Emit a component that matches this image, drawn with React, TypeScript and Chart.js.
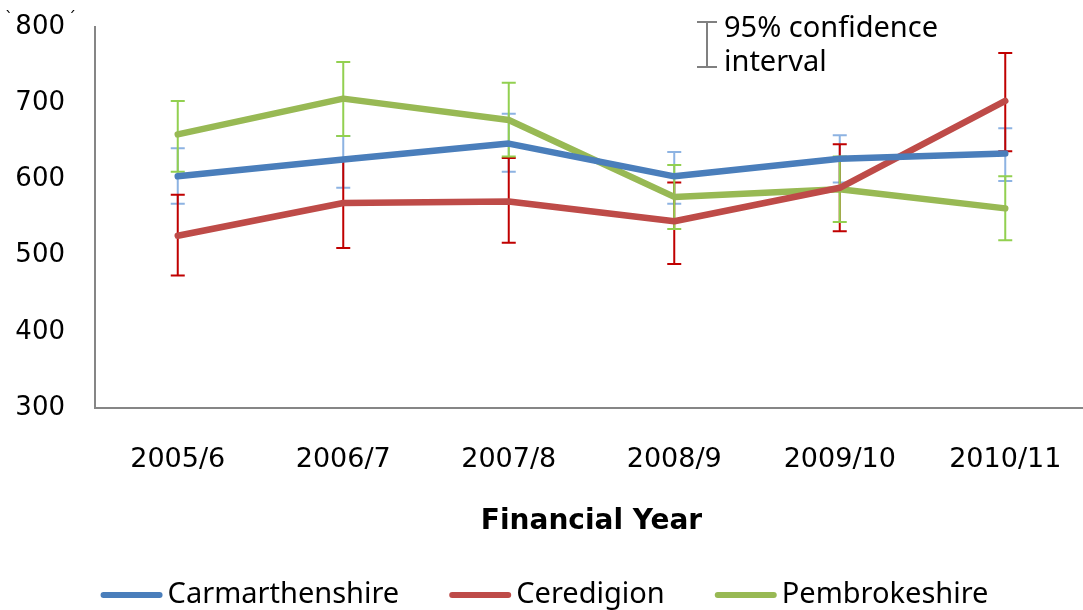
import React, { useEffect, useRef } from "react";
import { Chart, registerables } from "chart.js";

Chart.register(...registerables);

// ---- Data ----
const categories = ["2005/6", "2006/7", "2007/8", "2008/9", "2009/10", "2010/11"];
const seriesNames = ["Carmarthenshire", "Ceredigion", "Pembrokeshire"];

const carmarthenshire = [604, 626, 647, 604, 627, 634];
const carmarthenshireLower = [568, 589, 610, 568, 596, 598];
const carmarthenshireUpper = [641, 657, 686, 636, 658, 667];

const ceredigion = [526, 569, 571, 545, 589, 703];
const ceredigionLower = [474, 510, 517, 489, 532, 637];
const ceredigionUpper = [580, 624, 628, 596, 646, 766];

const pembrokeshire = [659, 706, 678, 577, 587, 562];
const pembrokeshireLower = [610, 657, 630, 535, 544, 520];
const pembrokeshireUpper = [703, 754, 727, 619, 630, 604];

const yMin = 300;
const yMax = 800;
const yStep = 100;

const xAxisTitle = "Financial Year";
const noteLines = ["95% confidence", "interval"];

const lineColors = ["#4A7EBB", "#BE4B48", "#98B954"];
const errorColors = ["#8DB3E2", "#C00000", "#92D050"];

const seriesValues = [carmarthenshire, ceredigion, pembrokeshire];
const seriesLower = [carmarthenshireLower, ceredigionLower, pembrokeshireLower];
const seriesUpper = [carmarthenshireUpper, ceredigionUpper, pembrokeshireUpper];

const VIEW_W = 1083;

const errorBarPlugin = {
  id: "errorBars",
  beforeDatasetsDraw(chart: any) {
    const { ctx, scales } = chart;
    const x = scales.x;
    const y = scales.y;
    seriesValues.forEach((vals, i) => {
      ctx.save();
      ctx.strokeStyle = errorColors[i];
      ctx.lineWidth = 2;
      vals.forEach((_v, j) => {
        const px = x.getPixelForValue(j);
        const top = y.getPixelForValue(seriesUpper[i][j]);
        const bot = y.getPixelForValue(seriesLower[i][j]);
        ctx.beginPath();
        ctx.moveTo(px, top);
        ctx.lineTo(px, bot);
        ctx.moveTo(px - 7, top);
        ctx.lineTo(px + 7, top);
        ctx.moveTo(px - 7, bot);
        ctx.lineTo(px + 7, bot);
        ctx.stroke();
      });
      ctx.restore();
    });
  },
};

// Legend drawn from the chart's own datasets (label + colour)
const legendPlugin = {
  id: "bottomLegend",
  afterDraw(chart: any) {
    const { ctx } = chart;
    const lineLen = 62;
    const gapText = 5;
    const gapItem = 50;
    const yc = 595;
    ctx.save();
    ctx.font = "29px 'Noto Sans'";
    const items = chart.data.datasets.map((ds: any) => ({
      label: ds.label as string,
      color: ds.borderColor as string,
      w: lineLen + gapText + ctx.measureText(ds.label).width,
    }));
    const total =
      items.reduce((s: number, it: any) => s + it.w, 0) + gapItem * (items.length - 1);
    let x = (VIEW_W - total) / 2 + 3;
    ctx.textBaseline = "middle";
    ctx.textAlign = "left";
    items.forEach((it: any) => {
      ctx.strokeStyle = it.color;
      ctx.lineWidth = 6;
      ctx.lineCap = "round";
      ctx.beginPath();
      ctx.moveTo(x + 3, yc);
      ctx.lineTo(x + lineLen - 3, yc);
      ctx.stroke();
      ctx.fillStyle = "#000000";
      ctx.fillText(it.label, x + lineLen + gapText, yc);
      x += it.w + gapItem;
    });
    ctx.restore();
  },
};

const notePlugin = {
  id: "ciNote",
  afterDraw(chart: any) {
    const { ctx } = chart;
    ctx.save();
    ctx.strokeStyle = "#808080";
    ctx.lineWidth = 2;
    ctx.beginPath();
    ctx.moveTo(707, 22);
    ctx.lineTo(707, 67);
    ctx.moveTo(697, 22);
    ctx.lineTo(717, 22);
    ctx.moveTo(697, 67);
    ctx.lineTo(717, 67);
    ctx.stroke();
    ctx.fillStyle = "#000000";
    ctx.font = "29px 'Noto Sans'";
    ctx.textBaseline = "middle";
    ctx.textAlign = "left";
    ctx.fillText(noteLines[0], 724, 29);
    ctx.fillText(noteLines[1], 724, 63);
    ctx.font = "16px 'DejaVu Sans'";
    ctx.fillText("`", 5, 19);
    ctx.fillText("´", 68, 19);
    ctx.restore();
  },
};

export default function App() {
  const canvasRef = useRef<HTMLCanvasElement | null>(null);

  useEffect(() => {
    if (!canvasRef.current) return;
    const chart = new Chart(canvasRef.current, {
      type: "line",
      data: {
        labels: categories,
        datasets: seriesNames.map((name, i) => ({
          label: name,
          data: seriesValues[i],
          borderColor: lineColors[i],
          backgroundColor: lineColors[i],
          borderWidth: 6.5,
          pointRadius: 0,
          pointHoverRadius: 0,
          tension: 0,
          borderCapStyle: "round",
          borderJoinStyle: "round",
          fill: false,
        })),
      },
      options: {
        animation: false,
        responsive: true,
        maintainAspectRatio: false,
        layout: { padding: { top: 27, left: 0, right: 0, bottom: 78 } },
        plugins: {
          tooltip: { enabled: false },
          legend: { display: false },
        },
        scales: {
          x: {
            type: "category",
            offset: true,
            grid: { display: false, drawTicks: false },
            border: { display: true, color: "#868686", width: 2 },
            ticks: {
              color: "#000000",
              padding: 36,
              maxRotation: 0,
              autoSkip: false,
              font: { family: "'DejaVu Sans'", size: 27 },
            },
            title: {
              display: true,
              text: xAxisTitle,
              color: "#000000",
              font: { family: "'DejaVu Sans'", size: 28, weight: "bold", lineHeight: 1 },
              padding: { top: 0, bottom: -4 },
            },
            afterFit: (scale: any) => {
              scale.height = 124;
              scale.paddingLeft = 0;
              scale.paddingRight = 0;
            },
          },
          y: {
            min: yMin,
            max: yMax,
            grid: { display: false, drawTicks: false },
            border: { display: true, color: "#868686", width: 2 },
            ticks: {
              stepSize: yStep,
              color: "#000000",
              padding: 30,
              font: { family: "'DejaVu Sans'", size: 26 },
            },
            afterFit: (scale: any) => {
              scale.width = 95;
              scale.paddingTop = 0;
              scale.paddingBottom = 0;
            },
          },
        },
      },
      plugins: [errorBarPlugin, legendPlugin, notePlugin],
    } as any);
    return () => chart.destroy();
  }, []);

  return (
    <div
      style={{
        position: "fixed",
        left: 0,
        top: 0,
        width: 1088,
        height: 610,
        background: "#ffffff",
      }}
    >
      <canvas ref={canvasRef} />
    </div>
  );
}
